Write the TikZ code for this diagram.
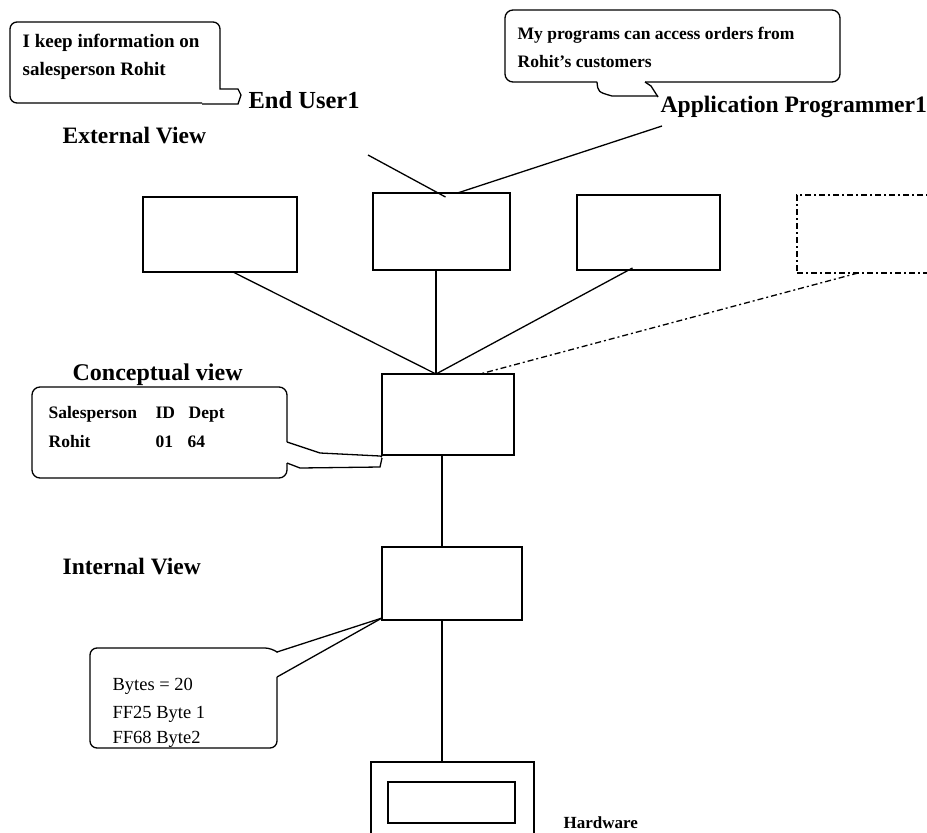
\documentclass[tikz,border=0pt]{standalone}
\usepackage{fontspec}
\setmainfont{Liberation Serif}
\usetikzlibrary{calc}
\begin{document}
\begin{tikzpicture}[x=1pt,y=-1pt,line width=1.3pt,
  box/.style={draw,anchor=north west,inner sep=0pt,outer sep=0pt},
  ctext/.style={anchor=base west,inner sep=0pt,font=\bfseries\fontsize{17.5}{20}\selectfont},
  rtext/.style={anchor=base west,inner sep=0pt,font=\fontsize{18.5}{22}\selectfont},
  head/.style={anchor=base west,inner sep=0pt,font=\bfseries\fontsize{23.5}{28}\selectfont},
  actor/.style={anchor=base west,inner sep=0pt,font=\bfseries\fontsize{23}{28}\selectfont},
  dd/.style={dash pattern=on 6pt off 3pt on 2pt off 3pt}]
\useasboundingbox (0,0) rectangle (927,833);
\clip (0,0) rectangle (927,833);

% boxes
\node[box,minimum width=154pt,minimum height=75pt] (b1) at (143,197) {};
\node[box,minimum width=137pt,minimum height=77pt] (b2) at (373,193) {};
\node[box,minimum width=143pt,minimum height=75pt] (b3) at (577,195) {};
\node[box,dd,minimum width=150pt,minimum height=78pt] (b4) at (797,195) {};
\node[box,minimum width=132pt,minimum height=81pt] (conc) at (382,374) {};
\node[box,minimum width=140pt,minimum height=73pt] (intl) at (382,547) {};
\node[box,minimum width=163pt,minimum height=90pt] (hwout) at (371,762) {};
\node[box,minimum width=127pt,minimum height=41pt] (hwin) at (388,782) {};

% texts
\node[ctext,font=\bfseries\fontsize{19}{22}\selectfont] (t1a) at (22,47) {I keep information on};
\node[ctext,font=\bfseries\fontsize{19}{22}\selectfont] (t1b) at (22,75) {salesperson Rohit};
\node[actor,font=\bfseries\fontsize{24.5}{28}\selectfont] (eu) at (248,108) {End User1};
\node[head] (ev) at (62,143) {External View};
\node[ctext] (t2a) at (517,39) {My programs can access orders from};
\node[ctext] (t2b) at (517,67) {Rohit's customers};
\node[actor,font=\bfseries\fontsize{23.6}{28}\selectfont] (ap) at (660,112) {Application Programmer1};
\node[head,font=\bfseries\fontsize{24}{28}\selectfont] (cv) at (72,380) {Conceptual view};
\node[ctext] (s1) at (48,418) {Salesperson};
\node[ctext] (s2) at (155,418) {ID};
\node[ctext] (s3) at (188,418) {Dept};
\node[ctext] (r1) at (48,447) {Rohit};
\node[ctext] (r2) at (155,447) {01};
\node[ctext] (r3) at (187,447) {64};
\node[head] (iv) at (62,574) {Internal View};
\node[rtext] (y1) at (112,690) {Bytes = 20};
\node[rtext] (y2) at (112,718) {FF25 Byte 1};
\node[rtext] (y3) at (112,743) {FF68 Byte2};
\node[anchor=base west,inner sep=0pt,font=\bfseries\fontsize{17}{20}\selectfont] (hw) at (563,828) {Hardware};

% callout 1
\draw[rounded corners=7pt] (220,80) -- (220,22) -- (10,22) -- (10,103) -- (202,103);
\draw (220,80) -- (220,89) -- (238,89) -- (241,95) -- (238,104) -- (202,104);
% callout 2
\draw[rounded corners=8pt] (597,82) -- (505,82) -- (505,10) -- (840,10) -- (840,82) -- (645,82);
\draw (597,82) .. controls (598,92) .. (612,96) -- (658,96);
\draw (645,82) -- (651,86) -- (658,97);
% callout 3
\draw[rounded corners=8pt] (287,442) -- (287,387) -- (32,387) -- (32,478) -- (287,478) -- (287,463);
\draw (287,442) -- (320,453) -- (380,456) -- ([yshift=-2pt]conc.south west);
\draw (287,463) -- (300,468) -- (380,467) -- ([yshift=-3pt]conc.south west);
% callout 4
\draw[rounded corners=7pt] (277,677) -- (277,748) -- (90,748) -- (90,648) -- (272,648) -- (277,652);
\draw (277,652) -- ([yshift=2pt]intl.south west);
\draw (277,677) -- ([yshift=2pt]intl.south west);

% connectors
\coordinate (cj) at (436,374);
\coordinate (dj) at (480,374);
\coordinate (u1) at (368,155);
\coordinate (u2) at (662,126);
\coordinate (vx) at (442,0);
\draw (u1) -- ([xshift=4pt,yshift=-4pt]b2.north);
\draw (u2) -- ([xshift=16pt]b2.north);
\draw ([xshift=13pt]b1.south) -- (cj);
\draw (b2.south -| cj) -- (cj);
\draw ([xshift=-16pt,yshift=2pt]b3.south) -- (cj);
\draw[dd] ([xshift=61pt]b4.south west) -- (dj);
\draw (conc.south -| vx) -- (intl.north -| vx);
\draw (intl.south -| vx) -- (hwout.north -| vx);
\end{tikzpicture}
\end{document}
